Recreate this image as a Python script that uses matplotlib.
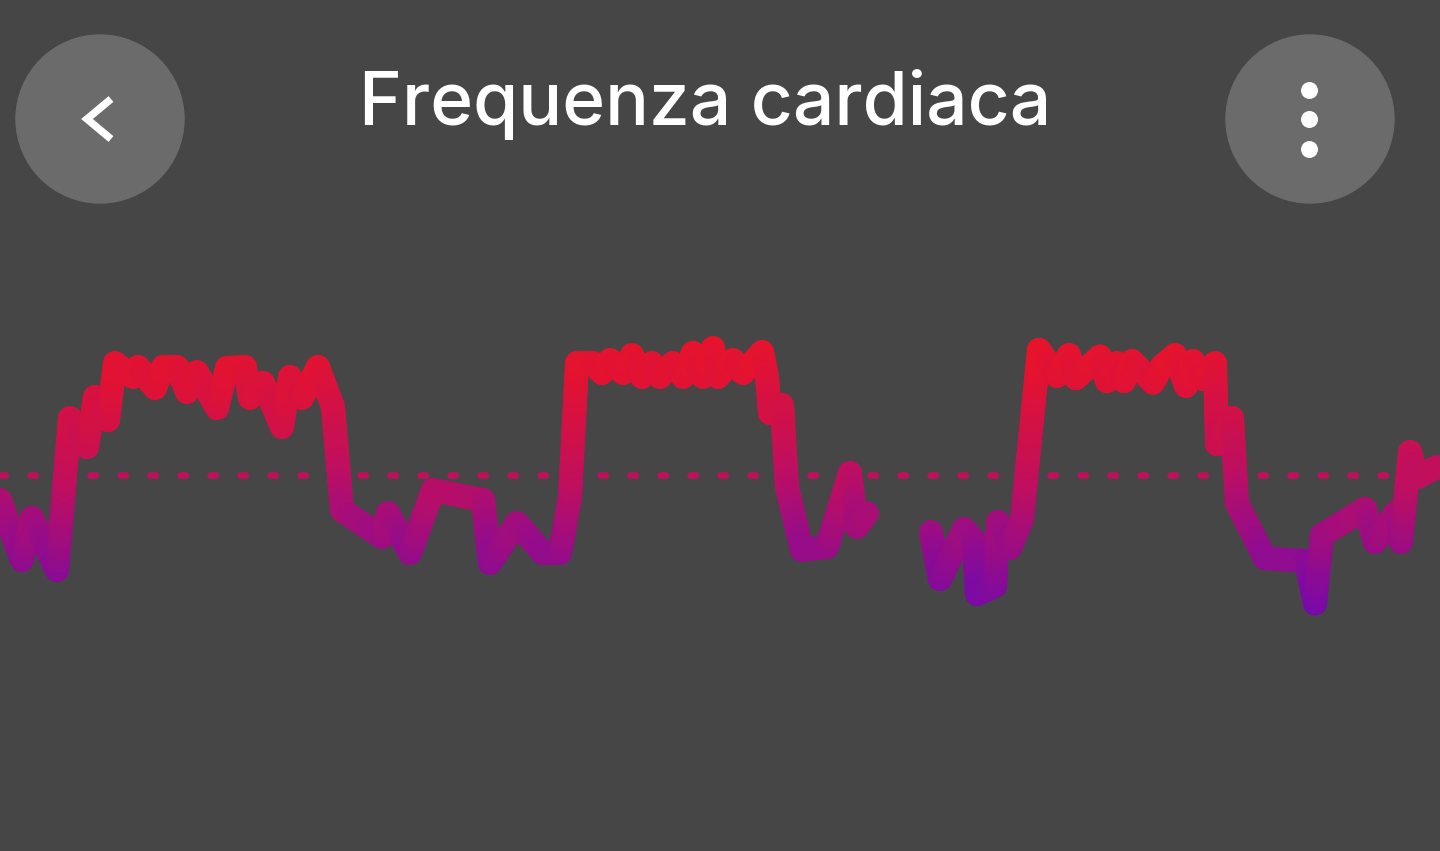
import numpy as np
import matplotlib
matplotlib.use("Agg")
import matplotlib.pyplot as plt
from matplotlib.collections import LineCollection
from matplotlib.colors import LinearSegmentedColormap, Normalize
from matplotlib.patches import Circle

plt.rcParams['lines.scale_dashes'] = False

# ---------------- data ----------------
title = "Frequenza cardiaca"
avg_bpm = 120

# session 1 (time in seconds, heart rate in bpm)
time_a = [0, 22, 32, 57, 70, 87, 95, 108, 115, 133, 138, 155, 163, 177, 187, 197,
          217, 227, 245, 250, 263, 282, 290, 302, 318, 333, 342, 382, 388, 410,
          433, 473, 483, 490, 517, 543, 560, 570, 577, 593, 602, 610, 623, 632,
          642, 652, 660, 673, 683, 693, 703, 713, 718, 733, 743, 762, 767, 770,
          782, 787, 802, 827, 850, 857, 867]
bpm_a = [111.7, 91.7, 105.7, 88.3, 139.0, 129.3, 146.0, 138.3, 157.3, 152.7, 156.0,
         149.0, 156.0, 156.0, 147.7, 154.3, 142.3, 155.7, 156.0, 145.7, 150.7, 136.0,
         152.7, 145.7, 156.0, 142.7, 108.3, 99.3, 107.3, 94.0, 115.0, 112.3, 111.7,
         90.7, 104.0, 94.0, 94.0, 112.7, 157.3, 157.3, 154.0, 158.3, 154.0, 160.0,
         152.7, 157.3, 152.7, 157.3, 152.7, 160.7, 152.7, 162.3, 152.7, 158.3, 154.0,
         161.0, 152.7, 140.7, 143.3, 116.0, 95.0, 96.0, 120.7, 102.7, 107.3]

# session 2 (after signal gap)
time_b = [931, 940, 964, 974, 977, 995, 998, 1010, 1022, 1039, 1057, 1069, 1076,
          1100, 1107, 1117, 1124, 1132, 1153, 1162, 1175, 1186, 1193, 1203, 1215,
          1217, 1232, 1237, 1265, 1306, 1315, 1322, 1365, 1375, 1396, 1401, 1410,
          1417, 1437]
bpm_b = [101.0, 85.3, 102.0, 98.3, 80.3, 83.0, 104.3, 95.7, 105.3, 161.7, 153.0,
         160.0, 152.3, 159.5, 151.3, 157.3, 151.3, 158.0, 150.8, 156.3, 160.0, 149.7,
         158.0, 152.0, 157.3, 130.3, 139.0, 110.7, 92.3, 91.3, 77.2, 100.0, 108.7,
         97.7, 107.5, 97.7, 127.7, 119.3, 122.7]

# ---------------- style ----------------
BG = "#464646"
BTN = "#6b6b6b"
W, H, DPI = 1440, 851, 100
PX = 72.0 / DPI  # points per pixel

fig = plt.figure(figsize=(W / DPI, H / DPI), dpi=DPI, facecolor=BG)

ax = fig.add_axes([0, 0, 1, 1])
ax.set_facecolor(BG)
ax.set_xlim(0, 1440)
ax.set_ylim(-5.33, 278.33)
ax.axis('off')

# average dashed line
ax.axhline(avg_bpm, color="#c1105b", lw=6.5 * PX, dashes=(5.5 * PX, 24.5 * PX),
           dash_capstyle='round', zorder=1)

cmap = LinearSegmentedColormap.from_list(
    "hr", [(0.0, "#780aa8"), (0.5, "#c00f5e"), (1.0, "#e8132a")])
norm = Normalize(vmin=78, vmax=162)


def gradient_segments(t, v, step=1.5):
    segs, vals = [], []
    for i in range(len(t) - 1):
        n = max(1, int(np.ceil(abs(v[i + 1] - v[i]) / step)))
        ts = np.linspace(t[i], t[i + 1], n + 1)
        vs = np.linspace(v[i], v[i + 1], n + 1)
        for j in range(n):
            segs.append([(ts[j], vs[j]), (ts[j + 1], vs[j + 1])])
            vals.append(0.5 * (vs[j] + vs[j + 1]))
    return segs, vals


for t, v in [(time_a, bpm_a), (time_b, bpm_b)]:
    segs, vals = gradient_segments(t, v)
    lc = LineCollection(segs, colors=cmap(norm(vals)), linewidths=24 * PX,
                        capstyle='round', joinstyle='round', zorder=3)
    ax.add_collection(lc)

# ---------------- header overlay (pixel coords) ----------------
ui = fig.add_axes([0, 0, 1, 1])
ui.set_xlim(0, W)
ui.set_ylim(H, 0)
ui.axis('off')
ui.patch.set_alpha(0)

ui.add_patch(Circle((100, 119), 84, color=BTN, zorder=5))
ui.add_patch(Circle((1310, 119), 84, color=BTN, zorder=5))
ui.plot([111, 87, 111], [99, 119, 139], color="white", lw=7.5 * PX,
        solid_capstyle='butt', solid_joinstyle='miter', zorder=6)
ui.scatter([1309, 1309, 1309], [90, 119, 149], s=(17 * PX) ** 2, color="white",
           zorder=6, linewidths=0)

txt = ui.text(705, 125, title, color="white", ha='center', va='baseline',
              fontsize=48, family=["Inter", "DejaVu Sans"], fontweight=500,
              zorder=6)
fig.canvas.draw()
bb = txt.get_window_extent()
txt.set_fontsize(48 * 694.0 / bb.width)

fig.savefig("out.png", dpi=DPI, facecolor=BG)
